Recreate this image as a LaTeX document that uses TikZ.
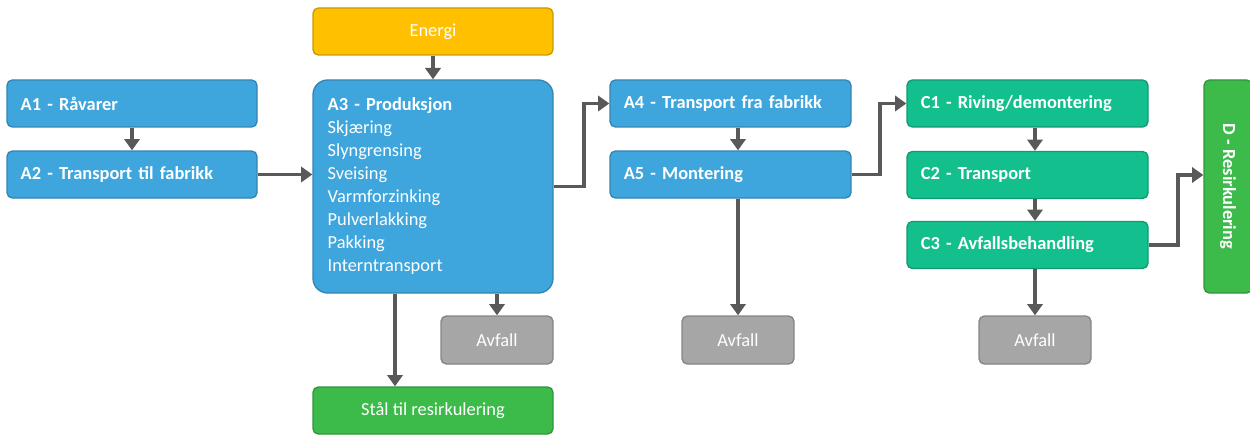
\documentclass[tikz,border=0pt]{standalone}
\usepackage{fontspec}
\setmainfont{Carlito}
\usetikzlibrary{arrows.meta}
\usepackage{xcolor}
\definecolor{stageblue}{HTML}{3EA6DD}
\definecolor{stageteal}{HTML}{14BF8E}
\definecolor{recgreen}{HTML}{3CBB4B}
\definecolor{energyyellow}{HTML}{FFC000}
\definecolor{wastegray}{HTML}{A6A6A6}
\definecolor{arrowgray}{HTML}{595959}

\begin{document}
\begin{tikzpicture}[x=0.75pt,y=-0.75pt]
	\tikzset{font=\fontsize{13.8}{17.25}\selectfont, text=white}
	\tikzset{box/.style = {shape=rectangle, rounded corners=4pt, fill=#1,
			draw=#1!80!black, line width=1pt, minimum height=35.25pt}}
	\tikzset{stage/.style = {box=#1, minimum width=180.75pt,
			text width=160pt, align=left, font=\fontsize{13.8}{17.25}\selectfont\bfseries}}
	\tikzset{waste/.style = {box=wastegray, minimum width=84pt, minimum height=36pt}}
	\tikzset{edge/.style = {draw=arrowgray, line width=2.8pt, ->,
			> = {Triangle[width=11.5pt,length=8.5pt]}}}
	\useasboundingbox (0,0) rectangle (1250,435);
	% vertices
	\node[box=energyyellow, minimum width=180pt] (energi) at (433,31.5) {Energi};
	\node[stage=stageblue, minimum width=187.5pt, text width=167pt] (a1) at (132,103.5) {A1 - Råvarer};
	\node[stage=stageblue, minimum width=187.5pt, text width=167pt] (a2) at (132,174.5) {A2 - Transport til fabrikk};
	\node[box=stageblue, rounded corners=11pt, minimum width=180pt, minimum height=159.75pt,
		text width=158pt, align=left] (a3) at (433,186.5)
		{\textbf{A3 - Produksjon}\\ Skjæring\\ Slyngrensing\\ Sveising\\ Varmforzinking\\
		 Pulverlakking\\ Pakking\\ Interntransport\\[-4pt]};
	\node[stage=stageblue] (a4) at (730.5,103.5) {A4 - Transport fra fabrikk};
	\node[stage=stageblue] (a5) at (730.5,174.5) {A5 - Montering};
	\node[stage=stageteal] (c1) at (1027.5,103.5) {C1 - Riving/demontering};
	\node[stage=stageteal] (c2) at (1027.5,175) {C2 - Transport};
	\node[stage=stageteal] (c3) at (1027.5,245) {C3 - Avfallsbehandling};
	\node[box=recgreen, minimum width=159.75pt, minimum height=36pt, rotate=-90,
		font=\fontsize{13.8}{17.25}\selectfont\bfseries] (d) at (1228,186.5) {D - Resirkulering};
	\node[waste] (avfall1) at (497,340) {Avfall};
	\node[waste] (avfall2) at (738,340) {Avfall};
	\node[waste] (avfall3) at (1035,340) {Avfall};
	\node[box=recgreen, minimum width=180pt] (staal) at (433,410.5) {Stål til resirkulering};
	% edges
	\draw[edge] (energi) -- (a3);
	\draw[edge] (a1) -- (a2);
	\draw[edge] (a2) -- (a2 -| a3.west);
	\draw[edge] (a3.east) -- ++(30,0) |- (a4.west);
	\draw[edge] (a4.south -| avfall2) -- (a5.north -| avfall2);
	\draw[edge] (a5.east) -- ++(28,0) |- (c1.west);
	\draw[edge] (c1.south -| avfall3) -- (c2.north -| avfall3);
	\draw[edge] (c2.south -| avfall3) -- (c3.north -| avfall3);
	\draw[edge] (c3.east) -- ++(29,0) |- (d.south |- c2);
	\draw[edge] (a3.south -| avfall1) -- (avfall1);
	\draw[edge] ([xshift=-28.5pt]a3.south) -- ([xshift=-28.5pt]staal.north);
	\draw[edge] (a5.south -| avfall2) -- (avfall2);
	\draw[edge] (c3.south -| avfall3) -- (avfall3);
\end{tikzpicture}
\end{document}
